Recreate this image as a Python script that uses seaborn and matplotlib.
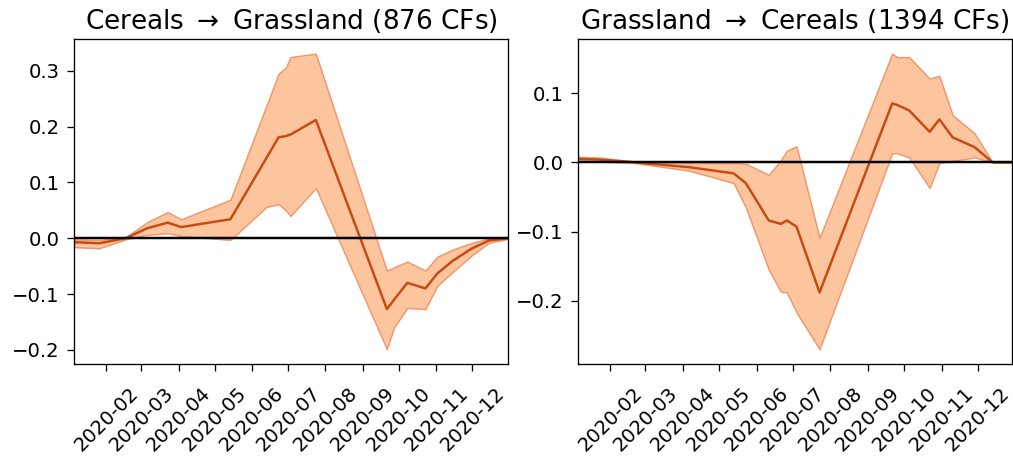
import matplotlib
matplotlib.use("Agg")
import matplotlib.pyplot as plt
import matplotlib.dates as mdates
import matplotlib.colors as mcolors
import pandas as pd
import seaborn as sns

# Cereals -> Grassland
left_dates = [
    "2020-01-05", "2020-01-26", "2020-02-17", "2020-03-06", "2020-03-23",
    "2020-04-03", "2020-05-14", "2020-06-13", "2020-06-23", "2020-06-29",
    "2020-07-03", "2020-07-24", "2020-09-21", "2020-09-27", "2020-10-08",
    "2020-10-23", "2020-11-02", "2020-11-15", "2020-12-01", "2020-12-15",
    "2020-12-31",
]
left_mean = [-0.007, -0.009, 0.0, 0.018, 0.028, 0.020, 0.034, 0.144, 0.181, 0.183,
             0.186, 0.212, -0.127, -0.110, -0.080, -0.090, -0.063, -0.040, -0.018,
             -0.004, 0.0]
left_lower = [-0.016, -0.018, -0.002, 0.006, 0.009, 0.004, -0.003, 0.056, 0.061, 0.050,
              0.040, 0.090, -0.199, -0.160, -0.125, -0.127, -0.085, -0.060, -0.030,
              -0.008, -0.001]
left_upper = [-0.002, -0.003, 0.002, 0.029, 0.047, 0.034, 0.069, 0.238, 0.295, 0.306,
              0.325, 0.331, -0.058, -0.052, -0.042, -0.058, -0.033, -0.020, -0.008,
              0.0, 0.002]

# Grassland -> Cereals
right_dates = [
    "2020-01-05", "2020-01-23", "2020-02-21", "2020-04-06", "2020-05-13",
    "2020-05-23", "2020-06-11", "2020-06-21", "2020-06-26", "2020-07-04",
    "2020-07-23", "2020-09-21", "2020-09-25", "2020-10-05", "2020-10-22",
    "2020-10-30", "2020-11-10", "2020-11-28", "2020-12-13", "2020-12-29",
]
right_mean = [0.005, 0.004, 0.0, -0.007, -0.016, -0.030, -0.084, -0.089, -0.084, -0.093,
              -0.188, 0.085, 0.083, 0.075, 0.044, 0.062, 0.036, 0.022, 0.0, 0.0]
right_lower = [0.002, 0.001, -0.001, -0.012, -0.030, -0.065, -0.155, -0.187, -0.188, -0.217,
               -0.270, 0.013, 0.013, 0.007, -0.037, -0.001, 0.002, 0.007, 0.0, -0.001]
right_upper = [0.008, 0.007, 0.001, -0.001, -0.001, -0.002, -0.018, 0.003, 0.017, 0.023,
               -0.109, 0.157, 0.152, 0.152, 0.121, 0.125, 0.068, 0.042, 0.0, 0.001]

titles = [r"Cereals $\rightarrow$ Grassland (876 CFs)",
          r"Grassland $\rightarrow$ Cereals (1394 CFs)"]

line_color = "#c64a12"
band_face = mcolors.to_rgba("#fd8d3c", 0.5)
band_edge = mcolors.to_rgba("#ec8050", 0.75)

DPI = 118
plt.rcParams["font.size"] = 12

fig, axes = plt.subplots(1, 2, figsize=(1013 / DPI, 457 / DPI), dpi=DPI)
fig.subplots_adjust(left=0.073, right=0.999, top=0.915, bottom=0.2035, wspace=0.159)

panels = [
    (left_dates, left_mean, left_lower, left_upper),
    (right_dates, right_mean, right_lower, right_upper),
]

for ax, (dates, mean, lower, upper), title in zip(axes, panels, titles):
    df = pd.DataFrame({
        "date": pd.to_datetime(dates),
        "mean": mean,
        "lower": lower,
        "upper": upper,
    })
    # uncertainty band with a slightly darker outline
    ax.fill_between(df["date"], df["lower"], df["upper"], facecolor=band_face,
                    edgecolor=band_edge, linewidth=0.9)
    sns.lineplot(data=df, x="date", y="mean", ax=ax, color=line_color, linewidth=1.5)
    ax.axhline(0, color="black", linewidth=1.5)
    ax.set_xlim(df["date"].min(), df["date"].max())
    ax.xaxis.set_major_locator(mdates.MonthLocator())
    ax.xaxis.set_major_formatter(mdates.DateFormatter("%Y-%m"))
    ax.tick_params(axis="both", length=4.2)
    ax.tick_params(axis="y", pad=4.5)
    ax.tick_params(axis="x", labelrotation=45, pad=8)
    ax.set_xlabel("")
    ax.set_ylabel("")
    ax.set_title(title, fontsize=16)

fig.savefig("out.png", dpi=DPI)
plt.close(fig)
